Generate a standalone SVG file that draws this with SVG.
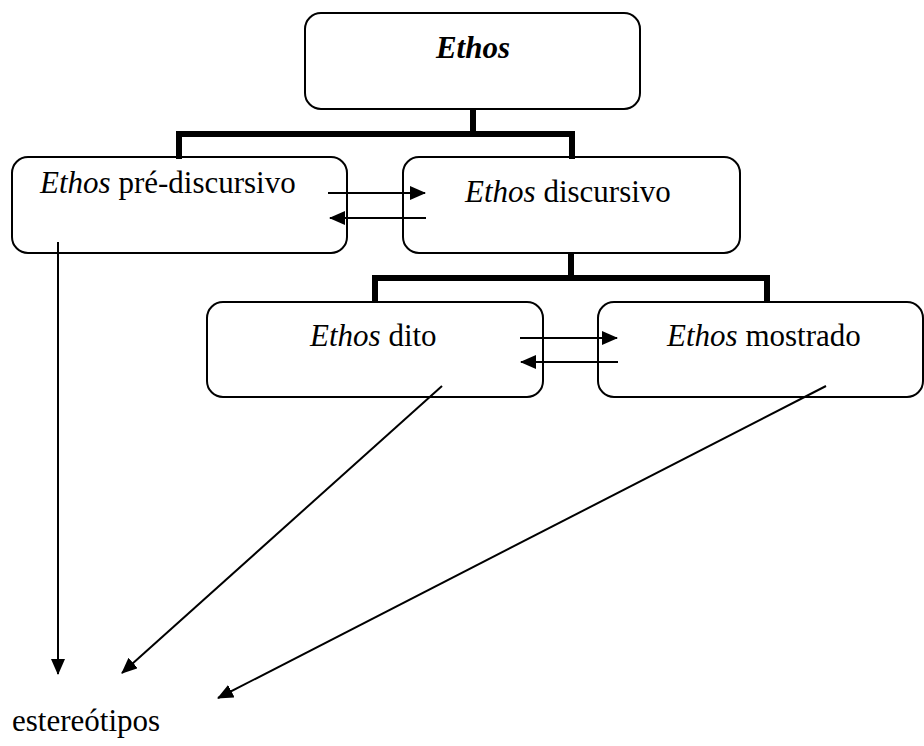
<svg xmlns="http://www.w3.org/2000/svg" width="924" height="746" viewBox="0 0 924 746">
<defs>
<marker id="ah" markerWidth="16" markerHeight="14" refX="15" refY="7" orient="auto" markerUnits="userSpaceOnUse">
<path d="M0,0 L16,7 L0,14 Z" fill="#000"/>
</marker>
<style>
.box{fill:#fff;stroke:#000;stroke-width:2}
.t{font-family:"Liberation Serif","Times New Roman",Tinos,"Nimbus Roman","FreeSerif","DejaVu Serif",serif;font-size:31px;fill:#000}
.thick{fill:none;stroke:#000;stroke-width:6;stroke-linejoin:miter}
.arr{fill:none;stroke:#000;stroke-width:2;marker-end:url(#ah)}
</style>
</defs>
<rect width="924" height="746" fill="#fff"/>
<g id="node-ethos">
<rect class="box" x="305" y="13" width="335" height="96" rx="16"/>
<text class="t" x="473" y="58" text-anchor="middle" font-weight="bold" font-style="italic">Ethos</text>
</g>
<g id="node-pre">
<rect class="box" x="12" y="157" width="335" height="96" rx="16"/>
<text class="t" x="40" y="193"><tspan font-style="italic">Ethos</tspan> pré-discursivo</text>
</g>
<g id="node-discursivo">
<rect class="box" x="403" y="157" width="337" height="96" rx="16"/>
<text class="t" x="465" y="202"><tspan font-style="italic">Ethos</tspan> discursivo</text>
</g>
<g id="node-dito">
<rect class="box" x="207" y="302" width="336" height="95" rx="16"/>
<text class="t" x="310" y="346"><tspan font-style="italic">Ethos</tspan> dito</text>
</g>
<g id="node-mostrado">
<rect class="box" x="598" y="302" width="325" height="95" rx="16"/>
<text class="t" x="667" y="346"><tspan font-style="italic">Ethos</tspan> mostrado</text>
</g>
<g id="node-estereotipos">
<text class="t" x="12" y="731">estereótipos</text>
</g>
<g id="connectors">
<path class="thick" d="M473,109 V134 M179,159 V134 H572 V159"/>
<path class="thick" d="M571,253 V278 M375,303 V278 H767 V303"/>
<line class="arr" x1="328" y1="193" x2="425" y2="193"/>
<line class="arr" x1="426" y1="218" x2="330" y2="218"/>
<line class="arr" x1="520" y1="338" x2="617" y2="338"/>
<line class="arr" x1="618" y1="362" x2="521" y2="362"/>
<line class="arr" x1="58" y1="242" x2="58" y2="674"/>
<line class="arr" x1="442" y1="386" x2="122" y2="673"/>
<line class="arr" x1="826" y1="386" x2="218" y2="698"/>
</g>
</svg>
